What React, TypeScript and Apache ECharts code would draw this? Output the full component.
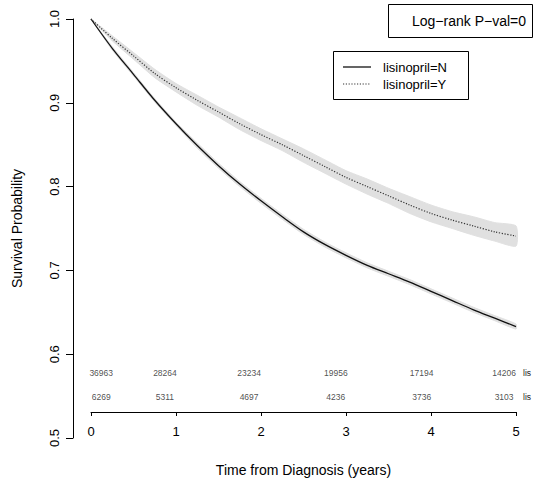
import React, { useEffect, useRef } from "react";
import * as echarts from "echarts";

// Time grid (years)
const times = [0, 0.25, 0.5, 0.75, 1, 1.25, 1.5, 1.75, 2, 2.25, 2.5, 2.75, 3, 3.25, 3.5, 3.75, 4, 4.25, 4.5, 4.75, 5];

// lisinopril=N
const survN = [1.0, 0.965, 0.934, 0.903, 0.875, 0.849, 0.825, 0.803, 0.783, 0.764, 0.746, 0.731, 0.718, 0.706, 0.696, 0.686, 0.675, 0.664, 0.653, 0.643, 0.633];
const lowerN = [1.0, 0.963, 0.932, 0.901, 0.873, 0.846, 0.822, 0.8, 0.78, 0.761, 0.743, 0.728, 0.715, 0.703, 0.693, 0.683, 0.672, 0.661, 0.65, 0.64, 0.63];
const upperN = [1.0, 0.967, 0.936, 0.905, 0.877, 0.852, 0.828, 0.806, 0.786, 0.767, 0.749, 0.734, 0.721, 0.709, 0.699, 0.689, 0.678, 0.667, 0.656, 0.646, 0.636];

// lisinopril=Y
const survY = [1.0, 0.977, 0.956, 0.935, 0.918, 0.903, 0.889, 0.875, 0.862, 0.85, 0.837, 0.824, 0.811, 0.8, 0.789, 0.778, 0.768, 0.76, 0.753, 0.746, 0.741];
const lowerY = [1.0, 0.974, 0.952, 0.93, 0.913, 0.897, 0.883, 0.868, 0.855, 0.843, 0.829, 0.816, 0.803, 0.791, 0.78, 0.768, 0.758, 0.75, 0.742, 0.735, 0.729];
const upperY = [1.0, 0.98, 0.96, 0.94, 0.923, 0.909, 0.895, 0.882, 0.869, 0.857, 0.845, 0.832, 0.819, 0.809, 0.798, 0.788, 0.778, 0.77, 0.764, 0.757, 0.753];

// Number at risk
const riskTimes = [0.12, 0.87, 1.86, 2.88, 3.89, 4.86];
const riskN = [36963, 28264, 23234, 19956, 17194, 14206];
const riskY = [6269, 5311, 4697, 4236, 3736, 3103];

const xTicks = ["0", "1", "2", "3", "4", "5"];
const yTicks = ["0.5", "0.6", "0.7", "0.8", "0.9", "1.0"];

const FONT = "'Liberation Sans', Arial, Helvetica, sans-serif";

export default function App() {
  const ref = useRef<HTMLDivElement>(null);
  useEffect(() => {
    if (!ref.current) return;
    const chart = echarts.init(ref.current, undefined, { renderer: "svg" });
    const pair = (ys: number[]) => times.map((t, i) => [t, ys[i]]);
    const bandColor = "#e0e0e0";
    const bandSeries = (lo: number[], hi: number[]) => ({
      type: "custom",
      silent: true,
      z: 1,
      clip: false,
      data: [[0, 0.75]],
      renderItem: (_params: any, api: any) => {
        const pts: number[][] = [];
        for (let i = 0; i < times.length; i++) pts.push(api.coord([times[i], hi[i]]));
        for (let i = times.length - 1; i >= 0; i--) pts.push(api.coord([times[i], lo[i]]));
        return { type: "polygon", shape: { points: pts, smooth: 0.2 }, style: { fill: bandColor, stroke: bandColor, lineWidth: 1 } };
      },
    });
    const riskLabel = { show: true, position: "inside", formatter: (p: any) => String(p.value[2]), fontSize: 8.5, color: "#222", fontFamily: FONT };
    const option: any = {
      animation: false,
      backgroundColor: "#fff",
      textStyle: { fontFamily: FONT },
      grid: { left: 91, width: 425, top: 19, bottom: 46, containLabel: false, outerBoundsMode: "none" },
      xAxis: {
        type: "value",
        min: 0,
        max: 5,
        interval: 1,
        offset: -26,
        axisLine: { show: true, onZero: false, lineStyle: { color: "#000", width: 1 } },
        axisTick: { show: true, length: 4, lineStyle: { color: "#000" } },
        axisLabel: { margin: 13, fontSize: 13, color: "#000", fontFamily: FONT, formatter: (v: number) => xTicks[Math.round(v)] },
        splitLine: { show: false },
        name: "Time from Diagnosis (years)",
        nameLocation: "middle",
        nameGap: 51,
        nameTextStyle: { fontSize: 14, color: "#000", fontFamily: FONT },
      },
      yAxis: {
        type: "value",
        min: 0.5,
        max: 1.0,
        interval: 0.1,
        offset: 18,
        axisLine: { show: true, onZero: false, lineStyle: { color: "#000", width: 1 } },
        axisTick: { show: true, length: 7, lineStyle: { color: "#000" } },
        axisLabel: {
          rotate: 90,
          margin: 12,
          fontSize: 13,
          color: "#000",
          fontFamily: FONT,
          formatter: (v: number) => yTicks[Math.round((v - 0.5) * 10)],
        },
        splitLine: { show: false },
        name: "Survival Probability",
        nameLocation: "middle",
        nameGap: 49,
        nameTextStyle: { fontSize: 14, color: "#000", fontFamily: FONT },
      },
      series: [
        bandSeries(lowerN, upperN),
        bandSeries(lowerY, upperY),
        { type: "line", name: "lisinopril=N", data: pair(survN), symbol: "none", smooth: 0.3, clip: false, lineStyle: { color: "#111", width: 1.3 }, z: 3 },
        { type: "line", name: "lisinopril=Y", data: pair(survY), symbol: "none", smooth: 0.3, clip: false, lineStyle: { color: "#333", width: 1.2, type: [1.2, 1.6] }, z: 3 },
        { type: "scatter", symbolSize: 0, clip: false, data: riskTimes.map((t, i) => [t, 0.5776, riskN[i]]), label: riskLabel, silent: true, z: 4 },
        { type: "scatter", symbolSize: 0, clip: false, data: riskTimes.map((t, i) => [t, 0.549, riskY[i]]), label: riskLabel, silent: true, z: 4 },
      ],
      graphic: [
        { type: "text", x: 523, y: 373, style: { text: "lis", fontSize: 8.5, fill: "#222", fontFamily: FONT, verticalAlign: "middle" } },
        { type: "text", x: 523, y: 397, style: { text: "lis", fontSize: 8.5, fill: "#222", fontFamily: FONT, verticalAlign: "middle" } },
        { type: "rect", shape: { x: 388.5, y: 4.5, width: 144, height: 33 }, style: { fill: "#fff", stroke: "#000", lineWidth: 1 }, z: 10 },
        { type: "text", x: 412, y: 21, style: { text: "Log−rank P−val=0", fontSize: 14, fill: "#000", fontFamily: FONT, verticalAlign: "middle" }, z: 11 },
        { type: "rect", shape: { x: 333.5, y: 51.5, width: 135, height: 48 }, style: { fill: "#fff", stroke: "#000", lineWidth: 1 }, z: 10 },
        { type: "line", shape: { x1: 343, y1: 67, x2: 371, y2: 67 }, style: { stroke: "#111", lineWidth: 1.3 }, z: 11 },
        { type: "line", shape: { x1: 343, y1: 84, x2: 371, y2: 84 }, style: { stroke: "#333", lineWidth: 1.2, lineDash: [1.2, 1.6] }, z: 11 },
        { type: "text", x: 383, y: 67, style: { text: "lisinopril=N", fontSize: 13, fill: "#000", fontFamily: FONT, verticalAlign: "middle" }, z: 11 },
        { type: "text", x: 383, y: 84, style: { text: "lisinopril=Y", fontSize: 13, fill: "#000", fontFamily: FONT, verticalAlign: "middle" }, z: 11 },
      ],
    };
    chart.setOption(option);
    return () => chart.dispose();
  }, []);
  return <div ref={ref} style={{ position: "fixed", left: 0, top: 0, width: 534, height: 484, background: "#fff" }} />;
}
